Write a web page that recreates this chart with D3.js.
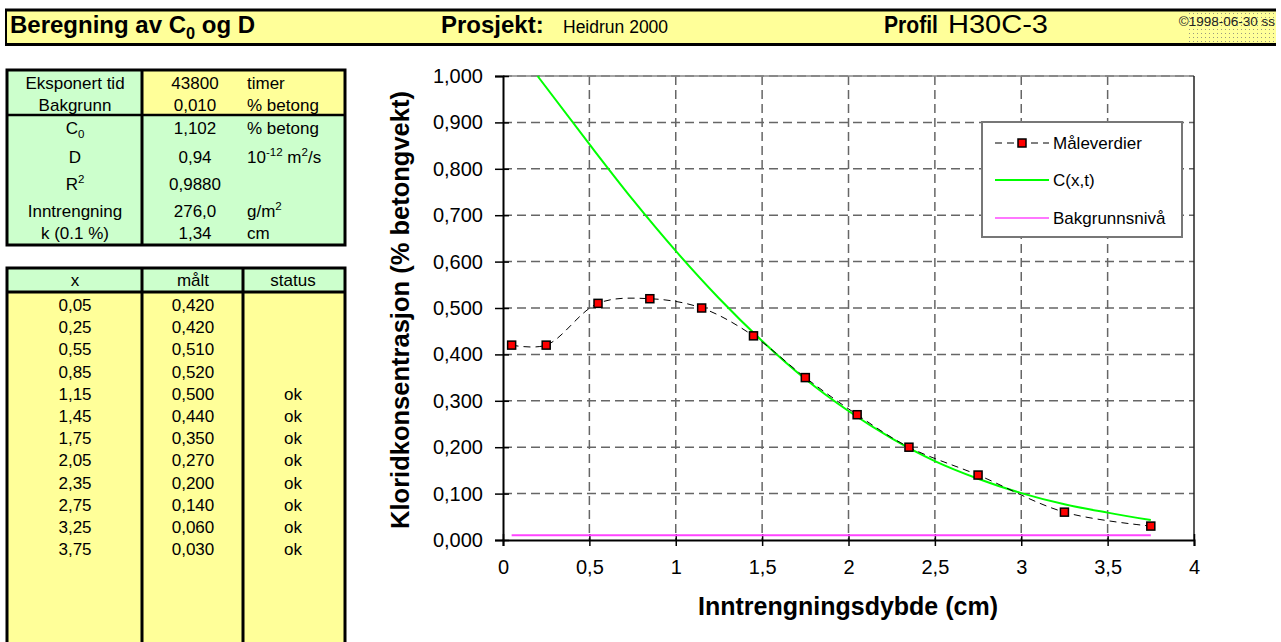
<!DOCTYPE html>
<html>
<head>
<meta charset="utf-8">
<script src="https://cdn.jsdelivr.net/npm/d3@7"></script>
<style>
  body { margin: 0; background: #fff; }
  svg { font-family: Arial, "Liberation Sans", sans-serif; }
</style>
</head>
<body>
<div id="container"></div>
<script>
// measured profile
const depth = [0.05, 0.25, 0.55, 0.85, 1.15, 1.45, 1.75, 2.05, 2.35, 2.75, 3.25, 3.75];
const measured = [0.420, 0.420, 0.510, 0.520, 0.500, 0.440, 0.350, 0.270, 0.200, 0.140, 0.060, 0.030];
const status = ["", "", "", "", "ok", "ok", "ok", "ok", "ok", "ok", "ok", "ok"];

// fitted curve C(x,t)
const fitX = [0.2, 0.5, 0.75, 1.0, 1.25, 1.5, 1.75, 2.0, 2.25, 2.5, 2.75, 3.0, 3.25, 3.5, 3.75];
const fitY = [1.000, 0.853, 0.734, 0.623, 0.521, 0.429, 0.347, 0.278, 0.219, 0.170, 0.132, 0.101, 0.077, 0.059, 0.043];

// background level
const bgLevel = 0.010;
const bgRange = [0.05, 3.75];

// parameter table
const paramLabels = ["Eksponert tid", "Bakgrunn", "C_{0}", "D", "R^{2}", "Inntrengning", "k (0.1 %)"];
const paramValues = ["43800", "0,010", "1,102", "0,94", "0,9880", "276,0", "1,34"];
const paramUnits = ["timer", "% betong", "% betong", "10^{-12} m^{2}/s", "", "g/m^{2}", "cm"];

const xTicks = [0, 0.5, 1, 1.5, 2, 2.5, 3, 3.5, 4];
const yTicks = [0, 0.1, 0.2, 0.3, 0.4, 0.5, 0.6, 0.7, 0.8, 0.9, 1.0];

const width = 1281, height = 642;
const svg = d3.select("#container").append("svg").attr("width", width).attr("height", height);

const locale = d3.formatLocale({decimal: ",", thousands: " ", grouping: [3], currency: ["", " kr"]});
const fmtY = locale.format(".3f");
const fmtX = locale.format("~g");

// text with _{sub} and ^{sup}
function rich(t, s, fs) {
  const re = /([_^])\{([^}]*)\}/g;
  let last = 0, m, shift = 0;
  while ((m = re.exec(s))) {
    if (m.index > last) t.append("tspan").attr("dy", -shift).text(s.slice(last, m.index)), shift = 0;
    const d = m[1] === "^" ? -0.42 * fs : 0.25 * fs;
    t.append("tspan").attr("dy", d - shift).attr("font-size", fs * 0.68).text(m[2]);
    shift = d;
    last = re.lastIndex;
  }
  if (last < s.length) t.append("tspan").attr("dy", -shift).text(s.slice(last));
}

// ---------- header bar ----------
const defs = svg.append("defs");
const pat = defs.append("pattern").attr("id", "dots").attr("width", 4).attr("height", 4)
  .attr("patternUnits", "userSpaceOnUse");
pat.append("rect").attr("width", 4).attr("height", 4).attr("fill", "#ffff99");
pat.append("rect").attr("x", 1).attr("y", 1).attr("width", 1).attr("height", 1).attr("fill", "#999980");

const header = svg.append("g");
header.append("rect").attr("x", 5).attr("y", 9).attr("width", 1271).attr("height", 36).attr("fill", "#ffff99");
header.append("rect").attr("x", 1188).attr("y", 10).attr("width", 88).attr("height", 34).attr("fill", "url(#dots)");
header.append("line").attr("x1", 5).attr("x2", 1276).attr("y1", 10).attr("y2", 10).attr("stroke", "#000").attr("stroke-width", 3);
header.append("line").attr("x1", 5).attr("x2", 1276).attr("y1", 44.5).attr("y2", 44.5).attr("stroke", "#000").attr("stroke-width", 3);
header.append("line").attr("x1", 6).attr("x2", 6).attr("y1", 9).attr("y2", 46).attr("stroke", "#000").attr("stroke-width", 2);

rich(header.append("text").attr("x", 10).attr("y", 33).attr("font-size", 24).attr("font-weight", "bold"),
  "Beregning av C_{0} og D", 24);
header.append("text").attr("x", 441).attr("y", 33).attr("font-size", 24).attr("font-weight", "bold").text("Prosjekt:");
header.append("text").attr("x", 563).attr("y", 33).attr("font-size", 17.5).text("Heidrun 2000");
header.append("text").attr("x", 884).attr("y", 33).attr("font-size", 24).attr("font-weight", "bold")
  .attr("textLength", 54).attr("lengthAdjust", "spacingAndGlyphs").text("Profil");
header.append("text").attr("x", 948).attr("y", 33).attr("font-size", 25)
  .attr("textLength", 100).attr("lengthAdjust", "spacingAndGlyphs").text("H30C-3");
header.append("text").attr("x", 1275).attr("y", 26).attr("font-size", 13.5).attr("text-anchor", "end")
  .attr("fill", "#222").text("\u00a91998-06-30 ss");

// ---------- parameter table ----------
const green = "#ccffcc", yellow = "#ffff99";
const tA = svg.append("g");
tA.append("rect").attr("x", 7).attr("y", 70).attr("width", 338).attr("height", 175).attr("fill", green);
tA.append("rect").attr("x", 142).attr("y", 70).attr("width", 203).attr("height", 45).attr("fill", yellow);
const rowYA = [83, 105, 128, 157, 184, 211, 233];
paramLabels.forEach((d, i) => {
  rich(tA.append("text").attr("x", 75).attr("y", rowYA[i] + 6).attr("font-size", 17).attr("text-anchor", "middle"), d, 17);
  tA.append("text").attr("x", 195).attr("y", rowYA[i] + 6).attr("font-size", 17).attr("text-anchor", "middle").text(paramValues[i]);
  rich(tA.append("text").attr("x", 247).attr("y", rowYA[i] + 6).attr("font-size", 17), paramUnits[i], 17);
});
tA.append("line").attr("x1", 7).attr("x2", 345).attr("y1", 115).attr("y2", 115).attr("stroke", "#000").attr("stroke-width", 2.5);
tA.append("line").attr("x1", 142).attr("x2", 142).attr("y1", 70).attr("y2", 245).attr("stroke", "#000").attr("stroke-width", 3);
tA.append("rect").attr("x", 7).attr("y", 70).attr("width", 338).attr("height", 175)
  .attr("fill", "none").attr("stroke", "#000").attr("stroke-width", 3);

// ---------- measurement table ----------
const tB = svg.append("g");
tB.append("rect").attr("x", 7).attr("y", 268).attr("width", 338).attr("height", 390).attr("fill", yellow);
tB.append("rect").attr("x", 7).attr("y", 268).attr("width", 338).attr("height", 24).attr("fill", green);
const colX = [75, 193, 293];
["x", "m\u00e5lt", "status"].forEach((d, i) => {
  tB.append("text").attr("x", colX[i]).attr("y", 286).attr("font-size", 17).attr("text-anchor", "middle").text(d);
});
depth.forEach((d, i) => {
  const y = 305 + i * 22.2 + 6;
  tB.append("text").attr("x", colX[0]).attr("y", y).attr("font-size", 17).attr("text-anchor", "middle").text(locale.format(".2f")(d));
  tB.append("text").attr("x", colX[1]).attr("y", y).attr("font-size", 17).attr("text-anchor", "middle").text(locale.format(".3f")(measured[i]));
  tB.append("text").attr("x", colX[2]).attr("y", y).attr("font-size", 17).attr("text-anchor", "middle").text(status[i]);
});
tB.append("line").attr("x1", 7).attr("x2", 345).attr("y1", 292).attr("y2", 292).attr("stroke", "#000").attr("stroke-width", 3);
[142, 243].forEach(x => tB.append("line").attr("x1", x).attr("x2", x).attr("y1", 268).attr("y2", 660).attr("stroke", "#000").attr("stroke-width", 3));
tB.append("rect").attr("x", 7).attr("y", 268).attr("width", 338).attr("height", 390)
  .attr("fill", "none").attr("stroke", "#000").attr("stroke-width", 3);

// ---------- chart ----------
const plot = {left: 503, right: 1194, top: 76, bottom: 540};
const xScale = d3.scaleLinear().domain([0, 4]).range([plot.left, plot.right]);
const yScale = d3.scaleLinear().domain([0, 1]).range([plot.bottom, plot.top]);

const grid = svg.append("g").attr("stroke", "#666").attr("stroke-width", 1.5).attr("stroke-dasharray", "9,5");
yTicks.filter(d => d > 0).forEach(d => {
  grid.append("line").attr("x1", plot.left).attr("x2", plot.right).attr("y1", yScale(d)).attr("y2", yScale(d));
});
xTicks.filter(d => d > 0 && d < 4).forEach(d => {
  grid.append("line").attr("y1", plot.top).attr("y2", plot.bottom).attr("x1", xScale(d)).attr("x2", xScale(d));
});
svg.append("line").attr("x1", plot.left).attr("x2", plot.right).attr("y1", plot.top).attr("y2", plot.top)
  .attr("stroke", "#888").attr("stroke-width", 1.5);
svg.append("line").attr("x1", plot.right).attr("x2", plot.right).attr("y1", plot.top).attr("y2", plot.bottom)
  .attr("stroke", "#222").attr("stroke-width", 1.5);

const yAxis = svg.append("g").attr("transform", `translate(${plot.left},0)`)
  .call(d3.axisLeft(yScale).tickValues(yTicks).tickFormat(fmtY).tickSize(8).tickPadding(12));
yAxis.selectAll(".tick line").attr("x1", 6).attr("stroke-width", 1.5);
yAxis.select(".domain").attr("stroke-width", 2);
yAxis.selectAll(".tick text").attr("font-size", 20).attr("font-family", "Arial, 'Liberation Sans', sans-serif");

const xAxis = svg.append("g").attr("transform", `translate(0,${plot.bottom})`)
  .call(d3.axisBottom(xScale).tickValues(xTicks).tickFormat(fmtX).tickSize(6).tickPadding(14));
xAxis.selectAll(".tick line").attr("y1", -6).attr("stroke-width", 1.5);
xAxis.select(".domain").attr("stroke-width", 2);
xAxis.selectAll(".tick text").attr("font-size", 20).attr("font-family", "Arial, 'Liberation Sans', sans-serif");

svg.append("text").attr("transform", `translate(409,${(plot.top + plot.bottom) / 2 + 2}) rotate(-90)`)
  .attr("text-anchor", "middle").attr("font-size", 25.5).attr("font-weight", "bold")
  .text("Kloridkonsentrasjon (% betongvekt)");
svg.append("text").attr("x", 848).attr("y", 615).attr("text-anchor", "middle")
  .attr("font-size", 25).attr("font-weight", "bold").text("Inntrengningsdybde (cm)");

// background level
svg.append("line").attr("x1", xScale(bgRange[0])).attr("x2", xScale(bgRange[1]))
  .attr("y1", yScale(bgLevel)).attr("y2", yScale(bgLevel))
  .attr("stroke", "#ff44ff").attr("stroke-width", 2);

// fitted curve
const fitLine = d3.line().x((d, i) => xScale(fitX[i])).y(d => yScale(d)).curve(d3.curveMonotoneX);
svg.append("path").attr("d", fitLine(fitY)).attr("fill", "none").attr("stroke", "#00ff00").attr("stroke-width", 2);

// measured values
const measLine = d3.line().x((d, i) => xScale(depth[i])).y(d => yScale(d)).curve(d3.curveCatmullRom.alpha(0.5));
svg.append("path").attr("d", measLine(measured)).attr("fill", "none").attr("stroke", "#000")
  .attr("stroke-width", 1).attr("stroke-dasharray", "7,5");
svg.selectAll("rect.mark").data(measured).join("rect").attr("class", "mark")
  .attr("x", (d, i) => xScale(depth[i]) - 4).attr("y", d => yScale(d) - 4)
  .attr("width", 8).attr("height", 8).attr("fill", "#ff0000").attr("stroke", "#000").attr("stroke-width", 1.5);

// legend
const lg = svg.append("g");
lg.append("rect").attr("x", 982).attr("y", 122).attr("width", 200).attr("height", 115)
  .attr("fill", "#fff").attr("stroke", "#777").attr("stroke-width", 2);
const legendItems = ["M\u00e5leverdier", "C(x,t)", "Bakgrunnsniv\u00e5"];
const legendY = [143, 180, 218];
legendItems.forEach((d, i) => {
  const y = legendY[i];
  const ln = lg.append("line").attr("x1", 995).attr("x2", 1049).attr("y1", y).attr("y2", y);
  if (i === 0) {
    ln.attr("stroke", "#000").attr("stroke-width", 1).attr("stroke-dasharray", "7,5");
    lg.append("rect").attr("x", 1018).attr("y", y - 4).attr("width", 8).attr("height", 8)
      .attr("fill", "#ff0000").attr("stroke", "#000").attr("stroke-width", 1.5);
  } else {
    ln.attr("stroke", i === 1 ? "#00ff00" : "#ff77ff").attr("stroke-width", 2);
  }
  lg.append("text").attr("x", 1053).attr("y", y + 6).attr("font-size", 17).text(d);
});
</script>
</body>
</html>
